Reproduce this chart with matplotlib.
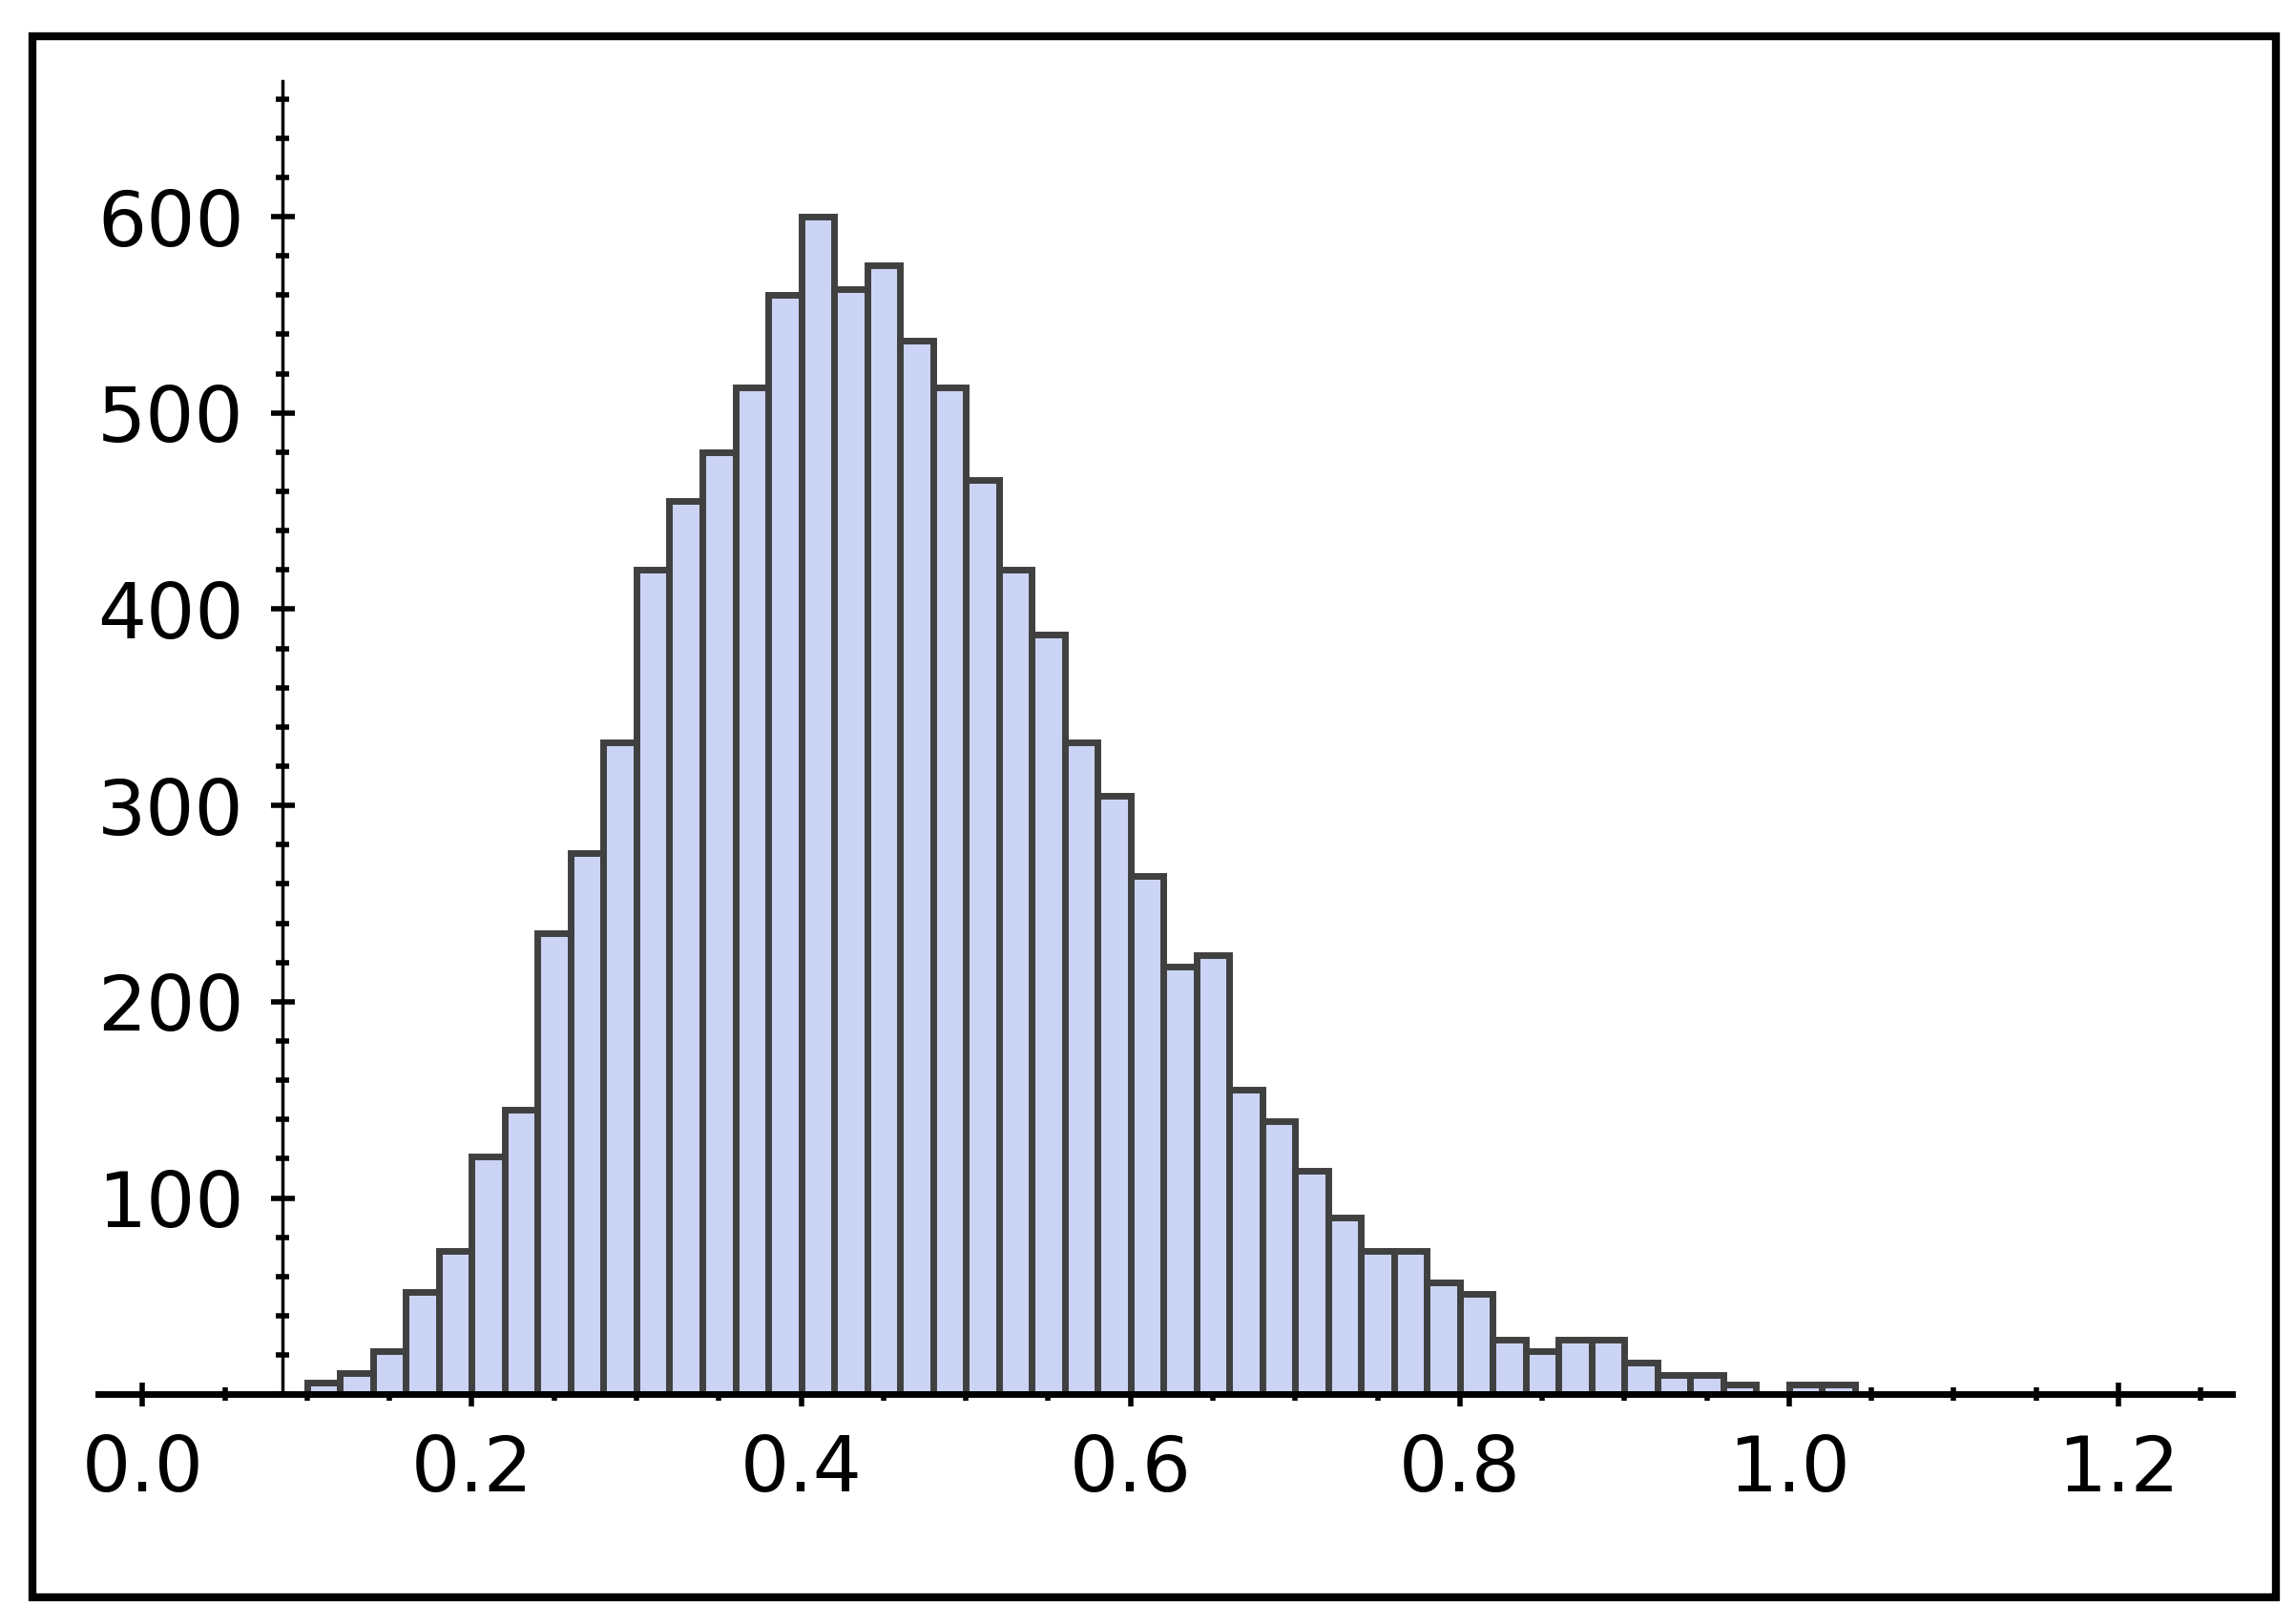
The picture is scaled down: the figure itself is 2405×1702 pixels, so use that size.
import numpy as np
import matplotlib.pyplot as plt
from matplotlib.patches import Rectangle
from matplotlib.ticker import MultipleLocator

bin_start = 0.10
bin_width = 0.02
counts = [6, 11, 22, 52, 73, 121, 145, 235, 276, 332, 420, 455, 480, 513, 560, 600,
          563, 575, 537, 513, 466, 420, 387, 332, 305, 264, 218, 224, 155, 139, 114,
          90, 73, 73, 57, 51, 28, 22, 28, 28, 16, 10, 10, 5, 0, 5, 5]
x_ticks = [0.0, 0.2, 0.4, 0.6, 0.8, 1.0, 1.2]
y_ticks = [100, 200, 300, 400, 500, 600]

lefts = bin_start + bin_width * np.arange(len(counts))

fig = plt.figure(figsize=(24.05, 17.02), dpi=100)
ax = fig.add_axes([0.0427, 0.1414, 0.9299, 0.8086])
ax.bar(lefts, counts, width=bin_width, align='edge', color='#CCD4F5',
       edgecolor='#404040', linewidth=5, zorder=2)
ax.set_xlim(-0.027, 1.269)
ax.set_ylim(0, 669)
ax.spines['top'].set_visible(False)
ax.spines['right'].set_visible(False)
ax.spines['bottom'].set_position(('data', 0))
ax.spines['left'].set_position(('data', 0.085))
ax.spines['bottom'].set_linewidth(5)
ax.spines['left'].set_linewidth(2.5)
ax.spines['bottom'].set_zorder(3)
ax.set_xticks(x_ticks)
ax.set_xticklabels([f"{v:.1f}" for v in x_ticks])
ax.set_yticks(y_ticks)
ax.xaxis.set_minor_locator(MultipleLocator(0.05))
ax.yaxis.set_minor_locator(MultipleLocator(20))
ax.tick_params(axis='both', which='major', direction='inout', length=18, width=4,
               labelsize=58, pad=20)
ax.tick_params(axis='both', which='minor', direction='inout', length=10, width=4)
ax.patch.set_alpha(0)
fig.patches.append(Rectangle((22/1568, 1-1092/1110), (1555-22)/1568, (1092-25)/1110,
                             transform=fig.transFigure, fill=False,
                             edgecolor='black', linewidth=6))
fig.savefig('out.png', dpi=100)
